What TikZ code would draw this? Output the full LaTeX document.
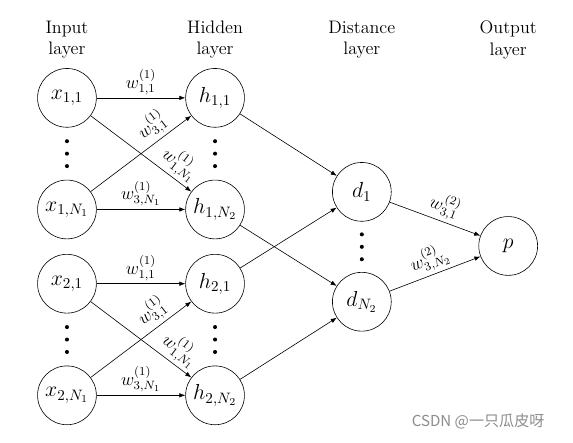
\documentclass[tikz,border=0pt]{standalone}
\usepackage{fontspec}
\newfontfamily\cjkfont{Noto Sans CJK SC}
\usetikzlibrary{arrows.meta,positioning,calc}

\begin{document}
\begin{tikzpicture}[
    neuron/.style={circle, draw, minimum size=1.37cm, inner sep=1pt, font=\Large},
    conn/.style={-{Latex[length=4pt,width=3pt]}},
    wt/.style={font=\large, inner sep=2pt},
    header/.style={align=center, font=\large}]

    \useasboundingbox (-1.56, 2.28) rectangle (11.79, -8.04);

    % Layer titles
    \node[header] (tin) at (0, 1.35) {Input\\layer};
    \node[header] (thid) at (3.45, 1.35) {Hidden\\layer};
    \node[header] (tdist) at (6.87, 1.35) {Distance\\layer};
    \node[header] (tout) at (10.28, 1.35) {Output\\layer};

    % Input and hidden neurons, two groups
    \foreach \g in {1,2} {
        \node[neuron] (x\g-1) at (0, {-(\g-1)*4.33}) {$x_{\g,1}$};
        \node[neuron] (x\g-n) at (0, {-(\g-1)*4.33-2.6}) {$x_{\g,N_1}$};
        \node[neuron] (h\g-1) at (3.45, {-(\g-1)*4.33}) {$h_{\g,1}$};
        \node[neuron] (h\g-n) at (3.45, {-(\g-1)*4.33-2.6}) {$h_{\g,N_2}$};

        \draw[conn] (x\g-1) -- node[wt, above] {$w^{(1)}_{1,1}$} (h\g-1);
        \draw[conn] (x\g-n) -- node[wt, pos=0.7, sloped, above] {$w^{(1)}_{3,1}$} (h\g-1);
        \draw[conn] (x\g-1) -- node[wt, pos=0.8, sloped, above] {$w^{(1)}_{1,N_1}$} (h\g-n);
        \draw[conn] (x\g-n) -- node[wt, above] {$w^{(1)}_{3,N_1}$} (h\g-n);
    }

    % Distance and output neurons
    \node[neuron] (d-1) at (6.87, -2.19) {$d_1$};
    \node[neuron] (d-n) at (6.87, -4.75) {$d_{N_2}$};
    \node[neuron] (p) at (10.28, -3.45) {$p$};

    \draw[conn] (h1-1) -- (d-1);
    \draw[conn] (h2-1) -- (d-1);
    \draw[conn] (h1-n) -- (d-n);
    \draw[conn] (h2-n) -- (d-n);

    \draw[conn] (d-1) -- node[wt, pos=0.55, sloped, above] {$w^{(2)}_{3,1}$} (p);
    \draw[conn] (d-n) -- node[wt, sloped, above] {$w^{(2)}_{3,N_2}$} (p);

    % vertical dots
    \foreach \c in {x1,h1,x2,h2,d} {
        \path (\c-1) -- (\c-n) coordinate[midway] (\c-mid);
        \foreach \k in {-1,0,1}
            \fill ($(\c-mid)+(0,\k*0.29)$) circle (0.047);
    }

    \node[font=\cjkfont, text=black!45] (mark) at (9.58, -7.55) {CSDN @一只瓜皮呀};
\end{tikzpicture}
\end{document}
